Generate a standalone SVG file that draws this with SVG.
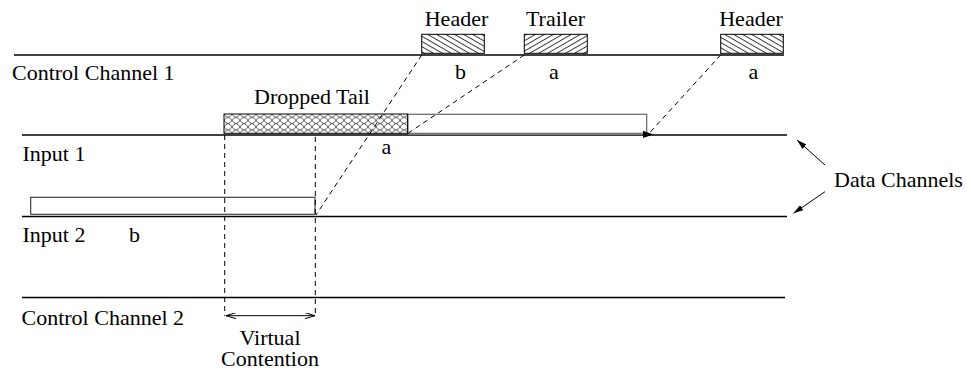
<svg xmlns="http://www.w3.org/2000/svg" width="967" height="370" viewBox="0 0 967 370" font-family="'Liberation Serif', 'DejaVu Serif', serif">
  <style>
    text { font-family: "Liberation Serif", "DejaVu Serif", serif; font-size: 22px; fill: #000; }
    .mid { text-anchor: middle; }
    .chan { stroke: #000; stroke-width: 1.3; fill: none; }
    .dash { stroke: #000; stroke-width: 1; stroke-dasharray: 5 4; fill: none; }
    .box { stroke: #000; stroke-width: 1; }
    .ptr { stroke: #000; stroke-width: 1; fill: none; }
  </style>
  <defs>
    <!-- diagonal hatch for header slots (down-right) -->
    <pattern id="hatchDown" patternUnits="userSpaceOnUse" width="20" height="4.5" patternTransform="rotate(30)">
      <line x1="0" y1="0.5" x2="20" y2="0.5" stroke="#000" stroke-width="0.8"/>
    </pattern>
    <!-- diagonal hatch for trailer slot (up-right) -->
    <pattern id="hatchUp" patternUnits="userSpaceOnUse" width="20" height="4.5" patternTransform="rotate(-30)">
      <line x1="0" y1="0.5" x2="20" y2="0.5" stroke="#000" stroke-width="0.8"/>
    </pattern>
    <!-- scale-like crosshatch for the dropped tail -->
    <pattern id="scales" patternUnits="userSpaceOnUse" x="224" y="114" width="8" height="6.4">
      <path d="M0,0 Q4,6.4 8,0 M0,6.4 Q4,0 8,6.4" stroke="#333" stroke-width="0.8" fill="none"/>
    </pattern>
    <marker id="open" viewBox="0 0 10 6" refX="10" refY="3" markerWidth="10" markerHeight="6" markerUnits="userSpaceOnUse" orient="auto-start-reverse">
      <path d="M0,0 L10,3 L0,6" fill="none" stroke="#000" stroke-width="1"/>
    </marker>
    <marker id="solid" viewBox="0 0 10 6" refX="10" refY="3" markerWidth="10" markerHeight="6" markerUnits="userSpaceOnUse" orient="auto">
      <path d="M0,0 L10,3 L0,6 Z" fill="#000"/>
    </marker>
  </defs>

  <!-- channel time lines -->
  <g id="control-channel-1">
    <line class="chan" x1="14" y1="55" x2="784" y2="55"/>
    <text x="12" y="79.5">Control Channel 1</text>
  </g>
  <g id="input-1">
    <line class="chan" x1="22" y1="135" x2="787" y2="135"/>
    <text x="22.5" y="161">Input 1</text>
  </g>
  <g id="input-2">
    <line class="chan" x1="22" y1="216.5" x2="787" y2="216.5"/>
    <text x="22.5" y="241.5">Input 2</text>
    <text x="129" y="241.5">b</text>
  </g>
  <g id="control-channel-2">
    <line class="chan" x1="22" y1="297.5" x2="785" y2="297.5"/>
    <text x="21.5" y="325">Control Channel 2</text>
  </g>

  <!-- control packets -->
  <g id="header-b">
    <rect class="box" x="421.7" y="34.3" width="62.6" height="19" fill="url(#hatchDown)"/>
    <text class="mid" x="456.5" y="26">Header</text>
    <text x="455" y="78.5">b</text>
  </g>
  <g id="trailer-a">
    <rect class="box" x="524.3" y="34.3" width="63" height="19" fill="url(#hatchUp)"/>
    <text class="mid" x="555.5" y="25.5">Trailer</text>
    <text x="549" y="78.5">a</text>
  </g>
  <g id="header-a">
    <rect class="box" x="720.7" y="34.3" width="62.6" height="19" fill="url(#hatchDown)"/>
    <text class="mid" x="751" y="26">Header</text>
    <text x="748.5" y="78.5">a</text>
  </g>

  <!-- data bursts -->
  <g id="burst-a">
    <rect x="407.7" y="114.3" width="239" height="19" fill="#fff" stroke="#666" stroke-width="1.2"/>
    <line x1="408" y1="134" x2="645" y2="134" stroke="#777" stroke-width="2"/>
    <path d="M643,130.8 L653.5,134.5 L643,138 Z" fill="#000"/>
    <text x="381.5" y="154">a</text>
  </g>
  <g id="dropped-tail">
    <rect class="box" x="224" y="114" width="183.7" height="19.3" fill="url(#scales)"/>
    <text x="254" y="103.5">Dropped Tail</text>
  </g>
  <g id="burst-b">
    <rect x="30.7" y="197.3" width="284.3" height="17" fill="#fff" stroke="#444" stroke-width="1.2"/>
  </g>

  <g id="virtual-contention">
    <text class="mid" x="270" y="345">Virtual</text>
    <text class="mid" x="270" y="365.5">Contention</text>
  </g>
  <g id="data-channels">
    <text x="834" y="187">Data Channels</text>
  </g>

  <!-- connectors -->
  <g id="connectors">
    <line class="dash" x1="421.7" y1="55" x2="316" y2="215"/>
    <line class="dash" x1="524.3" y1="55" x2="407" y2="134"/>
    <line class="dash" x1="720.7" y1="55" x2="648" y2="134.5"/>
    <line class="dash" x1="224.7" y1="135" x2="224.7" y2="316"/>
    <line class="dash" x1="315.3" y1="137" x2="315.3" y2="316"/>
    <line class="ptr" x1="226" y1="315.7" x2="315" y2="315.7" marker-start="url(#open)" marker-end="url(#open)"/>
    <line class="ptr" x1="825" y1="165" x2="797" y2="140" marker-end="url(#solid)"/>
    <line class="ptr" x1="825" y1="191.7" x2="793.5" y2="213.3" marker-end="url(#solid)"/>
  </g>
</svg>
